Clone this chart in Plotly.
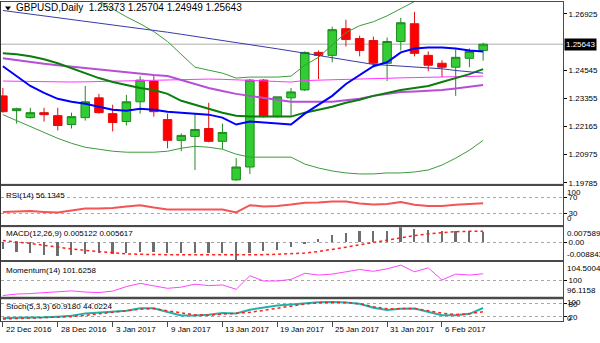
import plotly.graph_objects as go
from datetime import datetime

W, H = 600, 343

# ---- daily sessions -------------------------------------------------------
sessions = ["2016-12-22", "2016-12-23", "2016-12-26", "2016-12-27", "2016-12-28", "2016-12-29",
            "2016-12-30", "2017-01-02", "2017-01-03", "2017-01-04", "2017-01-05", "2017-01-06",
            "2017-01-09", "2017-01-10", "2017-01-11", "2017-01-12", "2017-01-13", "2017-01-16",
            "2017-01-17", "2017-01-18", "2017-01-19", "2017-01-20", "2017-01-23", "2017-01-24",
            "2017-01-25", "2017-01-26", "2017-01-27", "2017-01-30", "2017-01-31", "2017-02-01",
            "2017-02-02", "2017-02-03", "2017-02-06", "2017-02-07", "2017-02-08", "2017-02-09"]

opens = [1.23459, 1.22833, 1.22541, 1.22750, 1.22624, 1.22248, 1.22541, 1.23376, 1.22708, 1.22374,
         1.23209, 1.24086, 1.22457, 1.21580, 1.21747, 1.22081, 1.21539, 1.19910, 1.20453, 1.24127,
         1.22582, 1.23376, 1.23710, 1.25296, 1.25171, 1.26299, 1.25881, 1.25798, 1.24837, 1.25756,
         1.26507, 1.25171, 1.24837, 1.24670, 1.25046, 1.25373]
highs = [1.23793, 1.22958, 1.22958, 1.22958, 1.22958, 1.22750, 1.23877, 1.23543, 1.23084, 1.23501,
         1.24294, 1.24294, 1.22708, 1.21873, 1.22708, 1.23167, 1.22290, 1.20829, 1.24169, 1.24169,
         1.23418, 1.23793, 1.25338, 1.25380, 1.26382, 1.26674, 1.26006, 1.25965, 1.25923, 1.26758,
         1.27008, 1.25338, 1.24962, 1.25422, 1.25463, 1.25704]
lows = [1.22750, 1.22290, 1.22499, 1.22374, 1.21998, 1.22081, 1.22415, 1.22708, 1.21956, 1.22207,
        1.22708, 1.22582, 1.21246, 1.21121, 1.20328, 1.21497, 1.21205, 1.19869, 1.20161, 1.22541,
        1.22541, 1.22624, 1.23668, 1.24169, 1.24879, 1.25547, 1.25129, 1.24670, 1.24086, 1.25380,
        1.25129, 1.24503, 1.24253, 1.23459, 1.24670, 1.24949]
closes = [1.22791, 1.22917, 1.22750, 1.22666, 1.22207, 1.22582, 1.23209, 1.22750, 1.22332, 1.23209,
          1.24127, 1.22791, 1.21580, 1.21789, 1.22040, 1.21539, 1.21914, 1.20453, 1.24127, 1.22582,
          1.23418, 1.23626, 1.25296, 1.25171, 1.26257, 1.25839, 1.25380, 1.24837, 1.25756, 1.26549,
          1.25255, 1.24754, 1.24670, 1.25088, 1.25338, 1.25643]

# ---- moving averages and bands on the price chart -------------------------
ma_slow = [1.27067, 1.26992, 1.26917, 1.26841, 1.26762, 1.26687, 1.26612, 1.26537, 1.26462, 1.26386,
           1.26311, 1.26232, 1.26148, 1.26061, 1.25977, 1.25889, 1.25802, 1.25718, 1.25631, 1.25539,
           1.25447, 1.25355, 1.25263, 1.25163, 1.25067, 1.24967, 1.24871, 1.24787, 1.24754, 1.24720,
           1.24687, 1.24649, 1.24603, 1.24532, 1.24478, 1.24420]
ma_fast = [1.24712, 1.24294, 1.23877, 1.23585, 1.23334, 1.23209, 1.23125, 1.23000, 1.22875, 1.22833,
           1.22917, 1.22875, 1.22791, 1.22750, 1.22708, 1.22666, 1.22541, 1.22248, 1.22374, 1.22332,
           1.22290, 1.22248, 1.22708, 1.23084, 1.23459, 1.23960, 1.24336, 1.24712, 1.24879, 1.25297,
           1.25464, 1.25505, 1.25505, 1.25464, 1.25380, 1.25338]
bb_mid = [1.25255, 1.25213, 1.25130, 1.25004, 1.24837, 1.24628, 1.24420, 1.24211, 1.24044, 1.23919,
          1.23793, 1.23710, 1.23543, 1.23251, 1.23084, 1.22917, 1.22750, 1.22624, 1.22583, 1.22583,
          1.22583, 1.22583, 1.22750, 1.22875, 1.23000, 1.23167, 1.23292, 1.23459, 1.23585, 1.23710,
          1.23793, 1.23877, 1.24044, 1.24211, 1.24378, 1.24587]
ma_orchid = [1.25046, 1.24963, 1.24879, 1.24816, 1.24754, 1.24691, 1.24628, 1.24566, 1.24503, 1.24441,
             1.24399, 1.24336, 1.24294, 1.24127, 1.23960, 1.23793, 1.23668, 1.23543, 1.23459, 1.23376,
             1.23292, 1.23209, 1.23209, 1.23209, 1.23209, 1.23272, 1.23334, 1.23459, 1.23543, 1.23626,
             1.23647, 1.23668, 1.23710, 1.23773, 1.23835, 1.23919]
ma_magenta = [1.24086, 1.24073, 1.24061, 1.24044, 1.24044, 1.24044, 1.24052, 1.24065, 1.24077, 1.24094,
              1.24107, 1.24127, 1.24140, 1.24152, 1.24169, 1.24169, 1.24157, 1.24144, 1.24127, 1.24094,
              1.24065, 1.24044, 1.24107, 1.24127, 1.24148, 1.24161, 1.24169, 1.24190, 1.24211, 1.24219,
              1.24232, 1.24244, 1.24253, 1.24265, 1.24282, 1.24294]
bb_upper = [1.29180, 1.28929, 1.28679, 1.28428, 1.28178, 1.27927, 1.27718, 1.27468, 1.27134, 1.26800,
            1.26507, 1.26173, 1.25756, 1.25213, 1.24670, 1.24545, 1.24420, 1.24211, 1.24253, 1.24253,
            1.24253, 1.24294, 1.24754, 1.25088, 1.25631, 1.26132, 1.26424, 1.26591, 1.26841, 1.27134,
            1.27447, 1.27635, 1.27760, 1.27802, 1.27760, 1.27677]
bb_lower = [1.22666, 1.22416, 1.22165, 1.21914, 1.21664, 1.21455, 1.21288, 1.21205, 1.21121, 1.21079,
            1.21079, 1.21079, 1.21121, 1.21246, 1.21330, 1.21288, 1.21205, 1.20996, 1.20871, 1.20871,
            1.20871, 1.20871, 1.20578, 1.20411, 1.20286, 1.20203, 1.20161, 1.20161, 1.20203, 1.20203,
            1.20244, 1.20328, 1.20537, 1.20829, 1.21163, 1.21580]

# ---- oscillators -----------------------------------------------------------
rsi = [34, 35, 36, 34, 32.5, 37.5, 42.5, 42.5, 44, 47.5, 51, 45, 40, 40, 40, 40, 40, 32.5, 51, 47.5,
       49, 52.5, 57, 57.5, 60, 60, 55, 52.5, 54, 59, 52, 49, 49, 52, 54, 56.1345]
macd_main = [-0.0037, -0.0048, -0.0053, -0.0065, -0.0070, -0.0065, -0.0058, -0.0053, -0.0062, -0.0055,
             -0.0050, -0.0048, -0.0053, -0.0057, -0.0055, -0.0057, -0.0057, -0.008843, -0.0053, -0.0045,
             -0.0042, -0.0025, -0.0008, 0.0013, 0.0035, 0.0047, 0.0055, 0.0055, 0.0058, 0.007589,
             0.0067, 0.0063, 0.0055, 0.0055, 0.0055, 0.005122]
macd_signal = [0.0009, 0.0003, -0.0005, -0.0015, -0.0025, -0.0033, -0.0040, -0.0047, -0.0053, -0.0058,
               -0.0060, -0.0062, -0.0062, -0.0062, -0.0062, -0.0062, -0.0063, -0.0065, -0.0064, -0.0062,
               -0.0060, -0.0058, -0.0054, -0.0046, -0.0036, -0.0024, -0.0012, 0.0000, 0.0012, 0.0024,
               0.0034, 0.0043, 0.0050, 0.0054, 0.0056, 0.005617]
momentum = [96.35, 96.71, 96.83, 97.0, 97.19, 97.48, 97.19, 97.07, 97.43, 98.51, 99.3, 98.75, 98.1,
            98.39, 99.1, 98.75, 98.92, 97.86, 101.15, 99.88, 99.88, 100.26, 101.75, 101.31, 101.55,
            102.1, 102.66, 102.23, 102.82, 103.71, 102.1, 103.06, 100.12, 101.55, 101.31, 101.6258]
stoch_k = [15, 15, 15, 18, 21, 25, 36, 40, 41, 48, 60, 60, 42, 26, 26, 30, 38, 36, 53, 62, 72, 77,
           82, 87, 88, 86, 80, 62, 52, 57, 58, 44, 27, 27, 34, 60.9180]
stoch_d = [10, 12, 14, 16, 18, 21, 27, 33, 40, 48, 55, 58, 48, 37, 29, 28, 32, 36, 41, 50, 60, 71,
           79, 85, 88, 86, 80, 67, 57, 58, 59, 48, 37, 31, 34, 44.0224]

price_ticks = [1.19785, 1.20975, 1.22165, 1.23355, 1.24545, 1.26925]
date_step = 4

x = list(range(len(sessions)))
date_idx = list(range(0, len(sessions), date_step))
date_txt = []
for i in date_idx:
    d = datetime.strptime(sessions[i], "%Y-%m-%d")
    date_txt.append(f"{d.day} {d.strftime('%b')} {d.year}")


def px_x(p):
    return p / W


def px_y(p):
    return 1 - p / H


def dom(top, bot):
    return [px_y(bot), px_y(top)]


FONT = "Liberation Sans, Arial, sans-serif"
FRAME = "#4a4a4a"
X_LEFT, X_RIGHT = 1, 563
xrange_ = [-0.138, 40.82]

fig = go.Figure()

fig.add_trace(go.Candlestick(
    x=x, open=opens, high=highs, low=lows, close=closes,
    increasing=dict(fillcolor="#32cd32", line=dict(color="#1f8a1f", width=1)),
    decreasing=dict(fillcolor="#ff0000", line=dict(color="#e01010", width=1)),
    whiskerwidth=0, xaxis="x", yaxis="y", hoverinfo="skip", showlegend=False))


def line(y, color, width, xa, ya, dash="solid"):
    fig.add_trace(go.Scatter(x=x, y=y, mode="lines", xaxis=xa, yaxis=ya, showlegend=False,
                             hoverinfo="skip", line=dict(color=color, width=width, dash=dash)))


line(bb_upper, "#3c9a3c", 1, "x", "y")
line(bb_lower, "#3c9a3c", 1, "x", "y")
line(ma_magenta, "#ff33ff", 1, "x", "y")
line(ma_orchid, "#b44fd6", 2, "x", "y")
line(bb_mid, "#0a7d0a", 2, "x", "y")
line(ma_slow, "#3a3aa8", 1, "x", "y")
line(ma_fast, "#0000ff", 2, "x", "y")

line(rsi, "#f25555", 2, "x2", "y2")

fig.add_trace(go.Bar(x=x, y=macd_main, width=0.13, marker=dict(color="#6e6e6e", line=dict(width=0)),
                     xaxis="x3", yaxis="y3", showlegend=False, hoverinfo="skip"))
line(macd_signal, "#ff2020", 1.5, "x3", "y3", "dot")

line(momentum, "#ff44ff", 1, "x4", "y4")

line(stoch_k, "#20b2aa", 2, "x5", "y5")
line(stoch_d, "#ff2020", 1.5, "x5", "y5", "dot")

panels = {
    "": dict(px=(2, 186)),
    "2": dict(px=(188, 228)),
    "3": dict(px=(230, 263)),
    "4": dict(px=(265, 300)),
    "5": dict(px=(303, 325)),
}

tickfont = dict(family=FONT, size=8, color="#000000")
layout = dict(
    width=W, height=H, margin=dict(l=0, r=0, t=0, b=0),
    paper_bgcolor="#ffffff", plot_bgcolor="#ffffff",
    showlegend=False, boxgap=0.38, boxgroupgap=0, bargap=0,
    hovermode=False,
)

for k, p in panels.items():
    xa = dict(domain=[px_x(X_LEFT), px_x(X_RIGHT)], range=xrange_, anchor="y" + k,
              showline=True, mirror=True, linecolor=FRAME, linewidth=1,
              showgrid=False, zeroline=False, showticklabels=False, ticks="",
              rangeslider=dict(visible=False), fixedrange=True)
    if k:
        xa["matches"] = "x"
    if k == "5":
        xa.update(ticks="outside", tickvals=date_idx, ticklen=5, tickcolor=FRAME, tickwidth=1)
    ya = dict(domain=dom(*p["px"]), anchor="x" + k, side="right",
              showline=True, mirror=True, linecolor=FRAME, linewidth=1,
              zeroline=False, ticks="outside", ticklen=3, tickcolor="#000000",
              tickfont=tickfont, fixedrange=True)
    layout["xaxis" + k] = xa
    layout["yaxis" + k] = ya

layout["yaxis"].update(range=[1.19743, 1.27426], tickvals=price_ticks,
                       ticktext=[f"{v:.5f}" for v in price_ticks], showgrid=False)
grid = dict(showgrid=True, gridcolor="#a8a8a8", griddash="dot", gridwidth=1)
layout["yaxis2"].update(range=[0, 100], tickvals=[30, 70], ticktext=["30", "70"], **grid)
layout["yaxis3"].update(range=[-0.008843, 0.007589], tickvals=[0], ticktext=["0.00"], **grid)
layout["yaxis4"].update(range=[96.1158, 104.5004], tickvals=[100], ticktext=["100"], **grid)
layout["yaxis5"].update(range=[0, 100], tickvals=[20, 80], ticktext=["20", "80"], **grid)

fig.update_layout(**layout)

# current price line
fig.add_shape(type="line", xref="paper", yref="y", x0=px_x(X_LEFT), x1=px_x(X_RIGHT),
              y0=closes[-1], y1=closes[-1], line=dict(color="#c8c8c8", width=1.5), layer="below")

# separators between panels
for top, bot in [(186, 188), (228, 230), (263, 265), (300, 303)]:
    fig.add_shape(type="rect", xref="paper", yref="paper", x0=0, x1=px_x(X_RIGHT),
                  y0=px_y(bot), y1=px_y(top), line=dict(width=0), fillcolor="#a9a9a9", layer="below")
fig.add_shape(type="line", xref="paper", yref="paper", x0=px_x(0.5), x1=px_x(0.5),
              y0=px_y(325), y1=px_y(1), line=dict(color="#333333", width=1))

# small menu triangle before the symbol caption
fig.add_shape(type="path", xref="paper", yref="paper",
              path=f"M {px_x(5)},{px_y(6.5)} L {px_x(11)},{px_y(6.5)} L {px_x(8)},{px_y(10.5)} Z",
              fillcolor="#000000", line=dict(width=0))

ann = []


def label(txt, xp, yp, anchor="left", size=8, **kw):
    ann.append(dict(text=txt, xref="paper", yref="paper", x=px_x(xp), y=px_y(yp),
                    xanchor=anchor, yanchor="middle", showarrow=False,
                    font=dict(family=FONT, size=size, color=kw.get("color", "#000000")),
                    bgcolor=kw.get("bg", "rgba(0,0,0,0)"), borderpad=kw.get("pad", 0)))


label(f"GBPUSD,Daily\u00a0\u00a0{opens[-1]:.5f} {highs[-1]:.5f} {lows[-1]:.5f} {closes[-1]:.5f}",
      15, 8, size=10)
label(f"RSI(14) {rsi[-1]:.4f}", 5, 197.5)
label(f"MACD(12,26,9) {macd_main[-1]:.6f} {macd_signal[-1]:.6f}", 5, 236.5)
label(f"Momentum(14) {momentum[-1]:.4f}", 5, 274)
label(f"Stoch(5,3,3) {stoch_k[-1]:.4f} {stoch_d[-1]:.4f}", 5, 310.5)

# scale extremes of the indicator windows
label("100", 566, 195)
label("0", 566, 221)
label(f"{max(macd_main):.6f}", 566, 236)
label(f"{min(macd_main):.6f}", 566, 257)
label("104.5004", 566, 272)
label("96.1158", 566, 293.5)
label("100", 566, 306.5)
label("0", 566, 322.5)

# last price tag
ann.append(dict(text=f"{closes[-1]:.5f}", xref="paper", yref="y", x=px_x(564), y=closes[-1],
                xanchor="left", yanchor="middle", showarrow=False,
                font=dict(family=FONT, size=8, color="#ffffff"), bgcolor="#000000", borderpad=1))

# date labels start at their tick, to the right
for i, t in zip(date_idx, date_txt):
    ann.append(dict(text=t, xref="x5", yref="paper", x=i, y=px_y(333), xanchor="left",
                    yanchor="middle", xshift=1, showarrow=False,
                    font=dict(family=FONT, size=8, color="#000000")))

fig.update_layout(annotations=ann)
fig.write_html("out.html")
